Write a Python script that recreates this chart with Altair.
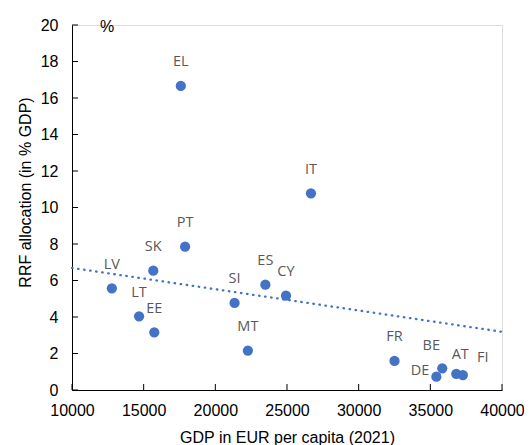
import altair as alt
import pandas as pd

# Data
countries = ["LV", "LT", "SK", "EE", "EL", "PT", "SI", "MT", "ES", "CY",
             "IT", "FR", "DE", "BE", "AT", "FI"]
gdp_per_capita = [12780, 14680, 15670, 15740, 17590, 17890, 21340, 22270,
                  23490, 24930, 26670, 32500, 35420, 35830, 36810, 37270]
rrf_allocation = [5.57, 4.04, 6.54, 3.16, 16.66, 7.85, 4.77, 2.16,
                  5.77, 5.17, 10.78, 1.59, 0.73, 1.19, 0.88, 0.82]

trend_x = [10000, 40000]
trend_y = [6.69, 3.19]

x_ticks = [10000, 15000, 20000, 25000, 30000, 35000, 40000]
y_ticks = [0, 2, 4, 6, 8, 10, 12, 14, 16, 18, 20]

df = pd.DataFrame({"country": countries, "gdp": gdp_per_capita, "rrf": rrf_allocation})
trend = pd.DataFrame({"gdp": trend_x, "rrf": trend_y})
yt = pd.DataFrame({"rrf": y_ticks})
xt = pd.DataFrame({"gdp": x_ticks})

BLUE = "#4472C4"
W, H = 430, 365
x_scale = alt.Scale(domain=[10000, 40000], nice=False, zero=False)
y_scale = alt.Scale(domain=[0, 20], nice=False)

x_enc = alt.X("gdp:Q", scale=x_scale,
              axis=alt.Axis(title="GDP in EUR per capita (2021)", values=x_ticks,
                            grid=False, ticks=False, tickSize=0, labelPadding=12,
                            titleY=47, titleBaseline="middle",
                            domainColor="black", labelColor="black",
                            titleColor="black", labelFont="Liberation Sans",
                            titleFont="Liberation Sans", labelFontSize=16,
                            titleFontSize=16, titleFontWeight="normal", format="d",
                            labelFlush=False, labelOverlap=False))
y_enc = alt.Y("rrf:Q", scale=y_scale,
              axis=alt.Axis(title="RRF allocation (in % GDP)", values=y_ticks,
                            grid=False, ticks=False, tickSize=0, labelPadding=14,
                            titleX=-47, titleY=167, titleBaseline="middle",
                            titleAlign="center", titleAngle=270,
                            domainColor="black", labelColor="black",
                            titleColor="black", labelFont="Liberation Sans",
                            titleFont="Liberation Sans", labelFontSize=16,
                            titleFontSize=16, titleFontWeight="normal",
                            labelOverlap=False))

base = alt.Chart(df)

trend_line = alt.Chart(trend).mark_line(
    color=BLUE, strokeWidth=2.3, strokeDash=[0.5, 5.6], strokeCap="round"
).encode(x=x_enc, y=y_enc)

points = base.mark_circle(size=105, opacity=1, color=BLUE).encode(x=x_enc, y=y_enc)

label_style = dict(font="Open Sans", fontSize=14.5, color="#595959")

special = ["BE", "DE", "AT", "FI"]
labels_main = base.transform_filter(
    ~alt.FieldOneOfPredicate(field="country", oneOf=special)
).mark_text(dy=-23.5, **label_style).encode(x=x_enc, y=y_enc, text="country:N")

def lbl(c, dx, dy, align="center"):
    return base.transform_filter(alt.datum.country == c).mark_text(
        dx=dx, dy=dy, align=align, **label_style
    ).encode(x=x_enc, y=y_enc, text="country:N")

labels_special = [lbl("BE", -11, -22), lbl("DE", -7, -6, "right"),
                  lbl("AT", 4, -19), lbl("FI", 20, -17)]

# inward ticks
y_tick_marks = alt.Chart(yt).mark_rule(color="black", strokeWidth=1).encode(
    y=y_enc, x=alt.value(0), x2=alt.value(6))
x_tick_marks = alt.Chart(xt).mark_rule(color="black", strokeWidth=1).encode(
    x=x_enc, y=alt.value(H), y2=alt.value(H - 6))

unit = alt.Chart(pd.DataFrame({"t": ["%"]})).mark_text(
    font="Liberation Sans", fontSize=16, color="black"
).encode(text="t:N", x=alt.value(35), y=alt.value(2))

chart = alt.layer(
    trend_line, points, labels_main, *labels_special, y_tick_marks, x_tick_marks, unit
).properties(
    width=W, height=H,
    autosize="none",
    padding={"left": 64, "top": 17, "right": 22, "bottom": 55},
).configure_view(stroke=None).configure(background="white")

chart.save("out.html", embed_options={"renderer": "svg", "actions": False})
